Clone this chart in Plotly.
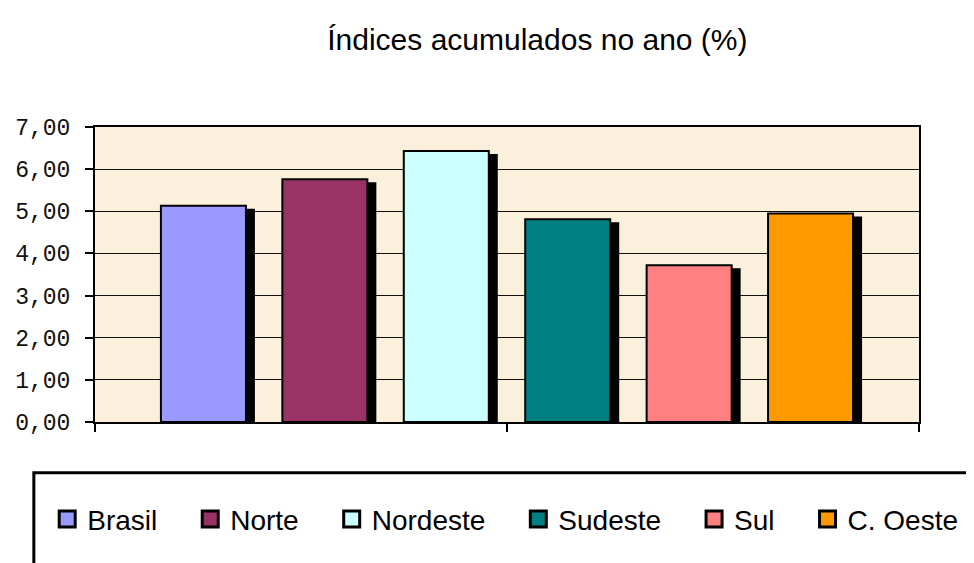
import plotly.graph_objects as go

# ---- data ----
regions = ["Brasil", "Norte", "Nordeste", "Sudeste", "Sul", "C. Oeste"]
values = [5.13, 5.76, 6.43, 4.81, 3.72, 4.95]
colors = ["#9999FF", "#993366", "#CCFFFF", "#008080", "#FF8080", "#FF9900"]
category = [""]
y_ticks = [0, 1, 2, 3, 4, 5, 6, 7]
title_text = "Índices acumulados no ano (%)"

# ---- layout geometry (page body has an 8px margin) ----
W, H = 966, 555
ML, MR, MT, MB = 87, 54.5, 119, 141.3
plot_w = W - ML - MR
plot_h = H - MT - MB
y_max = 7
px_per_unit_y = plot_h / y_max
px_per_unit_x = plot_w / 1.0
shadow_dx, shadow_dy = 8, 4
dx = shadow_dx / px_per_unit_x
dy = shadow_dy / px_per_unit_y

fig = go.Figure()

# shadows (shifted overlay axes x2/y2)
for name, v in zip(regions, values):
    fig.add_trace(go.Bar(
        x=category, y=[v], name=name, xaxis="x2", yaxis="y2",
        marker=dict(color="black", line=dict(color="black", width=2)),
        showlegend=False, hoverinfo="skip",
    ))

# bars (overlay axes x3/y3)
for name, v, c in zip(regions, values, colors):
    fig.add_trace(go.Bar(
        x=category, y=[v], name=name, xaxis="x3", yaxis="y3",
        marker=dict(color=c, line=dict(color="black", width=2)),
        showlegend=False,
    ))

# legend proxies
pad = "\u2002\u2002"
for i, (name, c) in enumerate(zip(regions, colors)):
    label = name + (pad if i < len(regions) - 1 else "")
    fig.add_trace(go.Scatter(
        x=[None], y=[None], mode="markers", name=label,
        marker=dict(symbol="square", size=16, color=c,
                    line=dict(color="black", width=3)),
        showlegend=True,
    ))

tick_font = dict(family="Liberation Mono, Courier New, monospace", size=23, color="#111111")

legend_frame_left = 25.8   # figure px
legend_frame_top = 464.3   # figure px

fig.update_layout(
    width=W, height=H,
    margin=dict(l=ML, r=MR, t=MT, b=MB, autoexpand=False),
    paper_bgcolor="white",
    plot_bgcolor="#FBF0DB",
    separators=",.",
    barmode="group",
    bargap=0.1158,
    bargroupgap=0.30,
    title=dict(text=title_text, x=0.548, xanchor="center",
               y=1 - 31 / H, yanchor="middle",
               font=dict(family="Liberation Sans, Arial, sans-serif", size=30, color="black")),
    xaxis=dict(type="linear", range=[-0.5, 0.5], tickvals=[-0.5, 0, 0.5],
               showticklabels=False, ticks="outside", ticklen=8, tickwidth=1.5,
               tickcolor="black", showline=True, linecolor="black", linewidth=2,
               mirror=True, showgrid=False, zeroline=False, fixedrange=True),
    yaxis=dict(range=[0, y_max], tickvals=y_ticks, tickformat=".2f",
               ticks="outside", ticklen=8, tickwidth=1.5, tickcolor="black",
               tickfont=tick_font, ticklabelstandoff=10,
               showline=True, linecolor="black", linewidth=2, mirror=True,
               showgrid=True, gridcolor="#111111", gridwidth=1.4, zeroline=False),
    xaxis2=dict(type="category", overlaying="x", range=[-0.5 - dx, 0.5 - dx], visible=False),
    yaxis2=dict(overlaying="y", range=[0 + dy, y_max + dy], visible=False),
    xaxis3=dict(type="category", overlaying="x", range=[-0.5, 0.5], visible=False),
    yaxis3=dict(overlaying="y", range=[0, y_max], visible=False),
    showlegend=True,
    legend=dict(orientation="h", x=-0.058, y=-0.33, xanchor="left", yanchor="middle",
                bgcolor="rgba(0,0,0,0)", borderwidth=0,
                font=dict(family="Liberation Sans, Arial, sans-serif", size=28, color="black")),
    shapes=[dict(type="rect", xref="paper", yref="paper",
                 x0=(legend_frame_left - ML) / plot_w, x1=1.2,
                 y0=-(legend_frame_top - (H - MB)) / plot_h, y1=-0.8,
                 line=dict(color="black", width=3), fillcolor="rgba(0,0,0,0)",
                 layer="above")],
)

fig.write_html("out.html")
